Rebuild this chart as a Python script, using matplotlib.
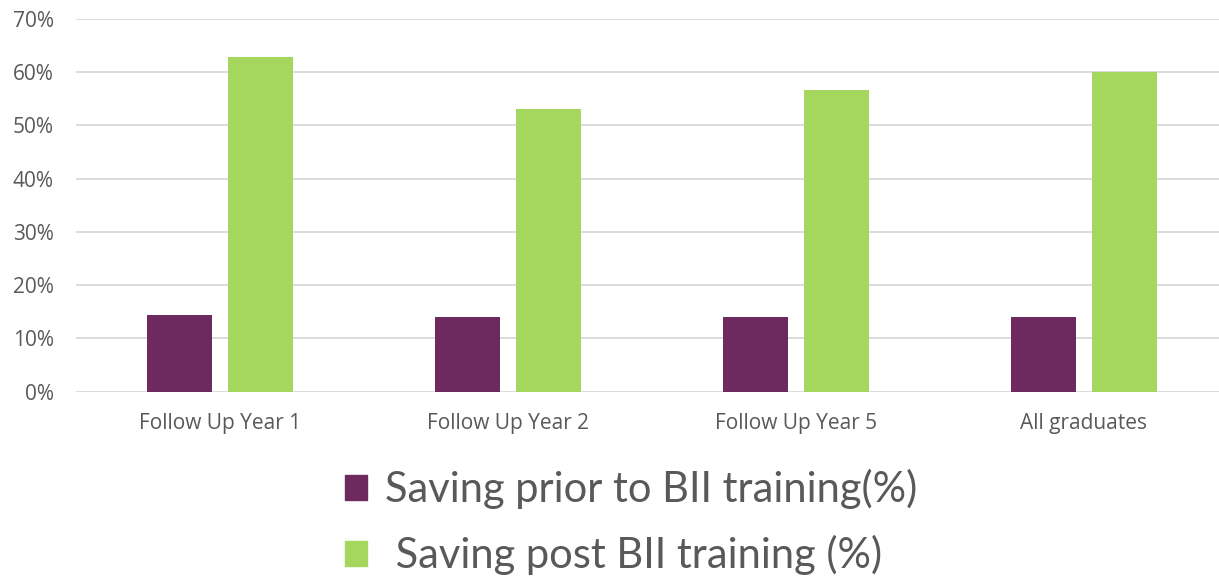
import numpy as np
import matplotlib
matplotlib.use("Agg")
import matplotlib.pyplot as plt
from matplotlib.patches import Patch
from matplotlib.ticker import PercentFormatter

categories = ["Follow Up Year 1", "Follow Up Year 2", "Follow Up Year 5", "All graduates"]
saving_prior = [14.4, 14.0, 14.0, 14.0]
saving_post = [62.9, 53.1, 56.7, 60.0]
labels = ["Saving prior to BII training(%)", " Saving post BII training (%)"]

purple = "#6D2A5F"
green = "#A5D65D"
grey_text = "#595959"
grid_col = "#D9D9D9"

fig = plt.figure(figsize=(12.19, 5.83), dpi=100)
ax = fig.add_axes([76 / 1219, 191.3 / 583, 1152 / 1219, 372.7 / 583])

x = np.arange(len(categories))
w = 0.224
off = 0.1415
ax.bar(x - off, saving_prior, w, color=purple, zorder=3)
ax.bar(x + off, saving_post, w, color=green, zorder=3)

ax.set_xlim(-0.5, 3.5)
ax.set_ylim(0, 70)
ax.set_yticks(np.arange(0, 71, 10))
ax.yaxis.set_major_formatter(PercentFormatter(decimals=0))
ax.set_xticks(x)
ax.set_xticklabels(categories)
ax.grid(axis="y", color=grid_col, linewidth=1.3, zorder=0)
for s in ax.spines.values():
    s.set_visible(False)
ax.tick_params(length=0, labelsize=15, colors=grey_text)
ax.tick_params(axis="x", pad=15)
ax.tick_params(axis="y", pad=16)
for t in ax.get_xticklabels() + ax.get_yticklabels():
    t.set_fontfamily("Open Sans")

handles = [Patch(color=purple), Patch(color=green)]
fig.legend(handles, labels, loc="upper left", bbox_to_anchor=(345 / 1219, 1 - 469 / 583),
           frameon=False, prop={"family": "Lato", "size": 30}, labelcolor=grey_text,
           handlelength=0.53, handleheight=0.53, handletextpad=0.43, labelspacing=0.62,
           borderpad=0, borderaxespad=0)

fig.savefig("out.png", dpi=100)
